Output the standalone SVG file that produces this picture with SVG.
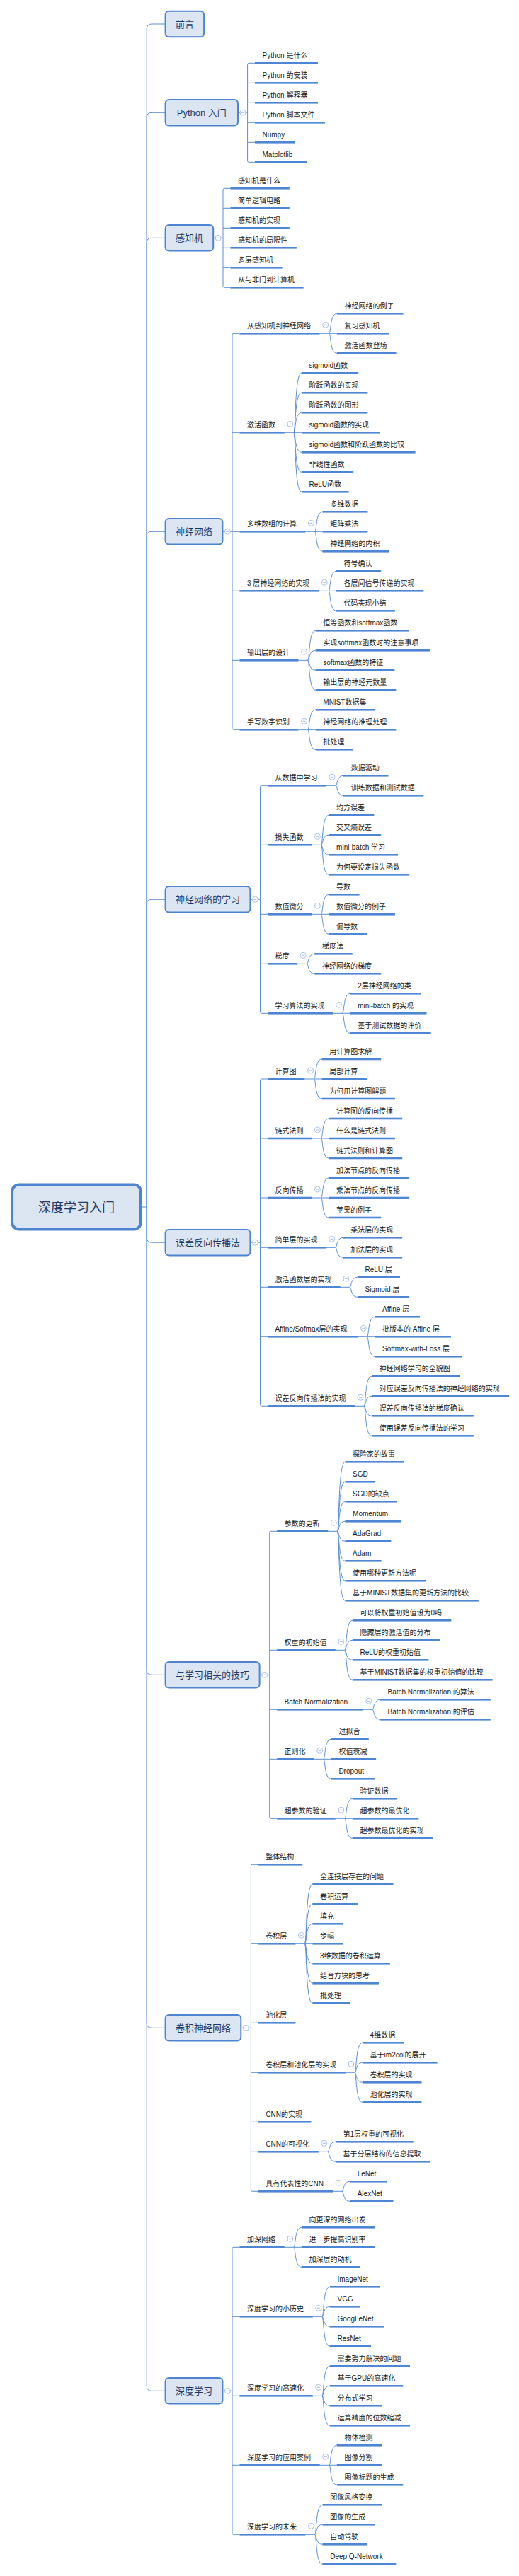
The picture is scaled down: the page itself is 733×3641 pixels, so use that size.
<svg xmlns="http://www.w3.org/2000/svg" xmlns:xlink="http://www.w3.org/1999/xlink" width="733" height="3641" viewBox="0 0 733 3641">
<style>
text{font-family:'Liberation Sans','Noto Sans CJK SC',sans-serif}
.c{fill:none;stroke:#5b8fd8;stroke-width:1}
.b1{fill:#dce6f3;stroke:#4d84d1;stroke-width:2}
.b0{fill:#dce6f3;stroke:#4d84d1;stroke-width:4}
.t0{font-size:18px;fill:#1f3a66;text-anchor:middle}
.t1{font-size:13px;fill:#1f3a66;text-anchor:middle}
.t2{font-size:10px;fill:#1a1a1a}
.u{fill:#4d86d4}
</style>
<defs>
<g id="tg"><circle r="4" fill="#fff" stroke="#a9bfe8" stroke-width="1"/><line x1="-2" y1="0" x2="2" y2="0" stroke="#8aa6df" stroke-width="0.8"/></g>
</defs>
<rect width="733" height="3641" fill="#fff"/>
<g id="connectors">
<path class="c" d="M200 1706H207.2 M207.2 1706V41Q207.2 34 214.2 34H233.6 M207.2 1706V166.3Q207.2 159.3 214.2 159.3H233.6 M207.2 1706V343.3Q207.2 336.3 214.2 336.3H233.6 M207.2 1706V758.3Q207.2 751.3 214.2 751.3H233.6 M207.2 1706V1278.3Q207.2 1271.3 214.2 1271.3H233.6 M207.2 1706V1749.2Q207.2 1756.2 214.2 1756.2H233.6 M207.2 1706V2360.3Q207.2 2367.3 214.2 2367.3H233.6 M207.2 1706V2859.3Q207.2 2866.3 214.2 2866.3H233.6 M207.2 1706V3372.3Q207.2 3379.3 214.2 3379.3H233.6"/>
<path class="c" d="M336 159.3H349.6 M351.6 89.3Q349.6 89.3 349.6 91.3V227.3Q349.6 229.3 351.6 229.3H360 M351.6 89.3H360 M349.6 117.3H360 M349.6 145.3H360 M349.6 173.3H360 M349.6 201.3H360"/>
<path class="c" d="M301.2 336.3H315 M317 266.3Q315 266.3 315 268.3V404.3Q315 406.3 317 406.3H325.4 M317 266.3H325.4 M315 294.3H325.4 M315 322.3H325.4 M315 350.3H325.4 M315 378.3H325.4"/>
<path class="c" d="M314.4 751.3H328 M330 471.3Q328 471.3 328 473.3V1029.3Q328 1031.3 330 1031.3H338.4 M330 471.3H338.4 M328 611.3H338.4 M328 751.3H338.4 M328 835.3H338.4 M328 933.3H338.4"/>
<path class="c" d="M451.7 471.3H475.7 M464.7 471.3C467.7 471.3 465.7 443.3 475.7 443.3 M464.7 471.3C467.7 471.3 465.7 499.3 475.7 499.3"/>
<path class="c" d="M401.8 611.3H425.8 M414.8 611.3C417.8 611.3 415.8 527.3 425.8 527.3 M414.8 611.3C417.8 611.3 415.8 555.3 425.8 555.3 M414.8 611.3C417.8 611.3 415.8 583.3 425.8 583.3 M414.8 611.3C417.8 611.3 415.8 639.3 425.8 639.3 M414.8 611.3C417.8 611.3 415.8 667.3 425.8 667.3 M414.8 611.3C417.8 611.3 415.8 695.3 425.8 695.3"/>
<path class="c" d="M431.5 751.3H455.5 M444.5 751.3C447.5 751.3 445.5 723.3 455.5 723.3 M444.5 751.3C447.5 751.3 445.5 779.3 455.5 779.3"/>
<path class="c" d="M450.3 835.3H475 M464 835.3C467 835.3 465 807.3 475 807.3 M464 835.3C467 835.3 465 863.3 475 863.3"/>
<path class="c" d="M421.6 933.3H434.6 M434.6 933.3C437.6 933.3 435.6 891.3 445.6 891.3 M434.6 933.3C437.6 933.3 435.6 919.3 445.6 919.3 M434.6 933.3C437.6 933.3 435.6 947.3 445.6 947.3 M434.6 933.3C437.6 933.3 435.6 975.3 445.6 975.3"/>
<path class="c" d="M421.6 1031.3H445.6 M434.6 1031.3C437.6 1031.3 435.6 1003.3 445.6 1003.3 M434.6 1031.3C437.6 1031.3 435.6 1059.3 445.6 1059.3"/>
<path class="c" d="M353.4 1271.3H367.5 M369.5 1110.3Q367.5 1110.3 367.5 1112.3V1430.3Q367.5 1432.3 369.5 1432.3H377.9 M369.5 1110.3H377.9 M367.5 1194.3H377.9 M367.5 1292.3H377.9 M367.5 1362.3H377.9"/>
<path class="c" d="M461 1110.3H474 M474 1110.3C477 1110.3 475 1096.3 485 1096.3 M474 1110.3C477 1110.3 475 1124.3 485 1124.3"/>
<path class="c" d="M440.4 1194.3H453.4 M453.4 1194.3C456.4 1194.3 454.4 1152.3 464.4 1152.3 M453.4 1194.3C456.4 1194.3 454.4 1180.3 464.4 1180.3 M453.4 1194.3C456.4 1194.3 454.4 1208.3 464.4 1208.3 M453.4 1194.3C456.4 1194.3 454.4 1236.3 464.4 1236.3"/>
<path class="c" d="M440.4 1292.3H464.4 M453.4 1292.3C456.4 1292.3 454.4 1264.3 464.4 1264.3 M453.4 1292.3C456.4 1292.3 454.4 1320.3 464.4 1320.3"/>
<path class="c" d="M420.2 1362.3H433.2 M433.2 1362.3C436.2 1362.3 434.2 1348.3 444.2 1348.3 M433.2 1362.3C436.2 1362.3 434.2 1376.3 444.2 1376.3"/>
<path class="c" d="M470.5 1432.3H494.5 M483.5 1432.3C486.5 1432.3 484.5 1404.3 494.5 1404.3 M483.5 1432.3C486.5 1432.3 484.5 1460.3 494.5 1460.3"/>
<path class="c" d="M353.4 1756.2H367.5 M369.5 1525Q367.5 1525 367.5 1527V1985.3Q367.5 1987.3 369.5 1987.3H377.9 M369.5 1525H377.9 M367.5 1609H377.9 M367.5 1693H377.9 M367.5 1763.3H377.9 M367.5 1819.3H377.9 M367.5 1889.3H377.9"/>
<path class="c" d="M430.5 1525H454.5 M443.5 1525C446.5 1525 444.5 1497 454.5 1497 M443.5 1525C446.5 1525 444.5 1553 454.5 1553"/>
<path class="c" d="M440.4 1609H464.4 M453.4 1609C456.4 1609 454.4 1581 464.4 1581 M453.4 1609C456.4 1609 454.4 1637 464.4 1637"/>
<path class="c" d="M440.4 1693H464.4 M453.4 1693C456.4 1693 454.4 1665 464.4 1665 M453.4 1693C456.4 1693 454.4 1721 464.4 1721"/>
<path class="c" d="M460.6 1763.3H473.6 M473.6 1763.3C476.6 1763.3 474.6 1749.3 484.6 1749.3 M473.6 1763.3C476.6 1763.3 474.6 1777.3 484.6 1777.3"/>
<path class="c" d="M480.8 1819.3H493.8 M493.8 1819.3C496.8 1819.3 494.8 1805.3 504.8 1805.3 M493.8 1819.3C496.8 1819.3 494.8 1833.3 504.8 1833.3"/>
<path class="c" d="M505.3 1889.3H529.3 M518.3 1889.3C521.3 1889.3 519.3 1861.3 529.3 1861.3 M518.3 1889.3C521.3 1889.3 519.3 1917.3 529.3 1917.3"/>
<path class="c" d="M501 1987.3H514 M514 1987.3C517 1987.3 515 1945.3 525 1945.3 M514 1987.3C517 1987.3 515 1973.3 525 1973.3 M514 1987.3C517 1987.3 515 2001.3 525 2001.3 M514 1987.3C517 1987.3 515 2029.3 525 2029.3"/>
<path class="c" d="M366.6 2367.3H380.7 M382.7 2164.3Q380.7 2164.3 380.7 2166.3V2568.3Q380.7 2570.3 382.7 2570.3H391.1 M382.7 2164.3H391.1 M380.7 2332.3H391.1 M380.7 2416.3H391.1 M380.7 2486.3H391.1"/>
<path class="c" d="M463.4 2164.3H476.4 M476.4 2164.3C479.4 2164.3 477.4 2066.3 487.4 2066.3 M476.4 2164.3C479.4 2164.3 477.4 2094.3 487.4 2094.3 M476.4 2164.3C479.4 2164.3 477.4 2122.3 487.4 2122.3 M476.4 2164.3C479.4 2164.3 477.4 2150.3 487.4 2150.3 M476.4 2164.3C479.4 2164.3 477.4 2178.3 487.4 2178.3 M476.4 2164.3C479.4 2164.3 477.4 2206.3 487.4 2206.3 M476.4 2164.3C479.4 2164.3 477.4 2234.3 487.4 2234.3 M476.4 2164.3C479.4 2164.3 477.4 2262.3 487.4 2262.3"/>
<path class="c" d="M473.8 2332.3H486.8 M486.8 2332.3C489.8 2332.3 487.8 2290.3 497.8 2290.3 M486.8 2332.3C489.8 2332.3 487.8 2318.3 497.8 2318.3 M486.8 2332.3C489.8 2332.3 487.8 2346.3 497.8 2346.3 M486.8 2332.3C489.8 2332.3 487.8 2374.3 497.8 2374.3"/>
<path class="c" d="M512.8 2416.3H525.8 M525.8 2416.3C528.8 2416.3 526.8 2402.3 536.8 2402.3 M525.8 2416.3C528.8 2416.3 526.8 2430.3 536.8 2430.3"/>
<path class="c" d="M443.7 2486.3H467.7 M456.7 2486.3C459.7 2486.3 457.7 2458.3 467.7 2458.3 M456.7 2486.3C459.7 2486.3 457.7 2514.3 467.7 2514.3"/>
<path class="c" d="M473.8 2570.3H497.8 M486.8 2570.3C489.8 2570.3 487.8 2542.3 497.8 2542.3 M486.8 2570.3C489.8 2570.3 487.8 2598.3 497.8 2598.3"/>
<path class="c" d="M340.3 2866.3H354.4 M356.4 2635.3Q354.4 2635.3 354.4 2637.3V3095.3Q354.4 3097.3 356.4 3097.3H364.8 M356.4 2635.3H364.8 M354.4 2747.3H364.8 M354.4 2859.3H364.8 M354.4 2929.3H364.8 M354.4 2999.3H364.8 M354.4 3041.3H364.8"/>
<path class="c" d="M417.4 2747.3H441.4 M430.4 2747.3C433.4 2747.3 431.4 2663.3 441.4 2663.3 M430.4 2747.3C433.4 2747.3 431.4 2691.3 441.4 2691.3 M430.4 2747.3C433.4 2747.3 431.4 2719.3 441.4 2719.3 M430.4 2747.3C433.4 2747.3 431.4 2775.3 441.4 2775.3 M430.4 2747.3C433.4 2747.3 431.4 2803.3 441.4 2803.3 M430.4 2747.3C433.4 2747.3 431.4 2831.3 441.4 2831.3"/>
<path class="c" d="M487.9 2929.3H500.9 M500.9 2929.3C503.9 2929.3 501.9 2887.3 511.9 2887.3 M500.9 2929.3C503.9 2929.3 501.9 2915.3 511.9 2915.3 M500.9 2929.3C503.9 2929.3 501.9 2943.3 511.9 2943.3 M500.9 2929.3C503.9 2929.3 501.9 2971.3 511.9 2971.3"/>
<path class="c" d="M449.8 3041.3H462.8 M462.8 3041.3C465.8 3041.3 463.8 3027.3 473.8 3027.3 M462.8 3041.3C465.8 3041.3 463.8 3055.3 473.8 3055.3"/>
<path class="c" d="M470 3097.3H483 M483 3097.3C486 3097.3 484 3083.3 494 3083.3 M483 3097.3C486 3097.3 484 3111.3 494 3111.3"/>
<path class="c" d="M314.4 3379.3H328 M330 3176.3Q328 3176.3 328 3178.3V3580.3Q328 3582.3 330 3582.3H338.4 M330 3176.3H338.4 M328 3274.3H338.4 M328 3386.3H338.4 M328 3484.3H338.4"/>
<path class="c" d="M401.8 3176.3H425.8 M414.8 3176.3C417.8 3176.3 415.8 3148.3 425.8 3148.3 M414.8 3176.3C417.8 3176.3 415.8 3204.3 425.8 3204.3"/>
<path class="c" d="M441.8 3274.3H454.8 M454.8 3274.3C457.8 3274.3 455.8 3232.3 465.8 3232.3 M454.8 3274.3C457.8 3274.3 455.8 3260.3 465.8 3260.3 M454.8 3274.3C457.8 3274.3 455.8 3288.3 465.8 3288.3 M454.8 3274.3C457.8 3274.3 455.8 3316.3 465.8 3316.3"/>
<path class="c" d="M441.8 3386.3H454.8 M454.8 3386.3C457.8 3386.3 455.8 3344.3 465.8 3344.3 M454.8 3386.3C457.8 3386.3 455.8 3372.3 465.8 3372.3 M454.8 3386.3C457.8 3386.3 455.8 3400.3 465.8 3400.3 M454.8 3386.3C457.8 3386.3 455.8 3428.3 465.8 3428.3"/>
<path class="c" d="M451.7 3484.3H475.7 M464.7 3484.3C467.7 3484.3 465.7 3456.3 475.7 3456.3 M464.7 3484.3C467.7 3484.3 465.7 3512.3 475.7 3512.3"/>
<path class="c" d="M431.5 3582.3H444.5 M444.5 3582.3C447.5 3582.3 445.5 3540.3 455.5 3540.3 M444.5 3582.3C447.5 3582.3 445.5 3568.3 455.5 3568.3 M444.5 3582.3C447.5 3582.3 445.5 3596.3 455.5 3596.3 M444.5 3582.3C447.5 3582.3 445.5 3624.3 455.5 3624.3"/>
</g>
<g id="root"><rect class="b0" x="17" y="1674.5" width="182" height="63" rx="10"/><text class="t0" x="108" y="1712.5">深度学习入门</text></g>
<g id="n1"><rect class="b1" x="233.6" y="15.7" width="54.5" height="36.6" rx="5"/><text class="t1" x="260.9" y="38.6">前言</text></g>
<g id="n2"><rect class="b1" x="233.6" y="141" width="102.4" height="36.6" rx="5"/><text class="t1" x="284.8" y="163.9">Python 入门</text><use href="#tg" x="343" y="159.3"/></g>
<g id="n2-1"><rect class="u" x="360" y="88" width="89" height="2.6"/><text class="t2" x="370.5" y="82.3">Python 是什么</text></g>
<g id="n2-2"><rect class="u" x="360" y="116" width="89" height="2.6"/><text class="t2" x="370.5" y="110.3">Python 的安装</text></g>
<g id="n2-3"><rect class="u" x="360" y="144" width="89" height="2.6"/><text class="t2" x="370.5" y="138.3">Python 解释器</text></g>
<g id="n2-4"><rect class="u" x="360" y="172" width="99" height="2.6"/><text class="t2" x="370.5" y="166.3">Python 脚本文件</text></g>
<g id="n2-5"><rect class="u" x="360" y="200" width="57" height="2.6"/><text class="t2" x="370.5" y="194.3">Numpy</text></g>
<g id="n2-6"><rect class="u" x="360" y="228" width="73" height="2.6"/><text class="t2" x="370.5" y="222.3">Matplotlib</text></g>
<g id="n3"><rect class="b1" x="233.6" y="318" width="67.6" height="36.6" rx="5"/><text class="t1" x="267.4" y="340.9">感知机</text><use href="#tg" x="308.2" y="336.3"/></g>
<g id="n3-1"><rect class="u" x="325.4" y="265" width="83.4" height="2.6"/><text class="t2" x="335.9" y="259.3">感知机是什么</text></g>
<g id="n3-2"><rect class="u" x="325.4" y="293" width="83.4" height="2.6"/><text class="t2" x="335.9" y="287.3">简单逻辑电路</text></g>
<g id="n3-3"><rect class="u" x="325.4" y="321" width="83.4" height="2.6"/><text class="t2" x="335.9" y="315.3">感知机的实现</text></g>
<g id="n3-4"><rect class="u" x="325.4" y="349" width="93.4" height="2.6"/><text class="t2" x="335.9" y="343.3">感知机的局限性</text></g>
<g id="n3-5"><rect class="u" x="325.4" y="377" width="73.2" height="2.6"/><text class="t2" x="335.9" y="371.3">多层感知机</text></g>
<g id="n3-6"><rect class="u" x="325.4" y="405" width="103.2" height="2.6"/><text class="t2" x="335.9" y="399.3">从与非门到计算机</text></g>
<g id="n4"><rect class="b1" x="233.6" y="733" width="80.8" height="36.6" rx="5"/><text class="t1" x="274" y="755.9">神经网络</text><use href="#tg" x="321.4" y="751.3"/></g>
<g id="n4-1"><rect class="u" x="338.4" y="470" width="113.3" height="2.6"/><text class="t2" x="348.9" y="464.3">从感知机到神经网络</text><use href="#tg" x="459.7" y="459.3"/></g>
<g id="n4-1-1"><rect class="u" x="475.7" y="442" width="93.8" height="2.6"/><text class="t2" x="486.4" y="436.3">神经网络的例子</text></g>
<g id="n4-1-2"><rect class="u" x="475.7" y="470" width="73.6" height="2.6"/><text class="t2" x="486.4" y="464.3">复习感知机</text></g>
<g id="n4-1-3"><rect class="u" x="475.7" y="498" width="83.9" height="2.6"/><text class="t2" x="486.4" y="492.3">激活函数登场</text></g>
<g id="n4-2"><rect class="u" x="338.4" y="610" width="63.4" height="2.6"/><text class="t2" x="348.9" y="604.3">激活函数</text><use href="#tg" x="409.8" y="599.3"/></g>
<g id="n4-2-1"><rect class="u" x="425.8" y="526" width="80.4" height="2.6"/><text class="t2" x="436.5" y="520.3">sigmoid函数</text></g>
<g id="n4-2-2"><rect class="u" x="425.8" y="554" width="93.6" height="2.6"/><text class="t2" x="436.5" y="548.3">阶跃函数的实现</text></g>
<g id="n4-2-3"><rect class="u" x="425.8" y="582" width="93.6" height="2.6"/><text class="t2" x="436.5" y="576.3">阶跃函数的图形</text></g>
<g id="n4-2-4"><rect class="u" x="425.8" y="610" width="110.5" height="2.6"/><text class="t2" x="436.5" y="604.3">sigmoid函数的实现</text></g>
<g id="n4-2-5"><rect class="u" x="425.8" y="638" width="160.8" height="2.6"/><text class="t2" x="436.5" y="632.3">sigmoid函数和阶跃函数的比较</text></g>
<g id="n4-2-6"><rect class="u" x="425.8" y="666" width="73.4" height="2.6"/><text class="t2" x="436.5" y="660.3">非线性函数</text></g>
<g id="n4-2-7"><rect class="u" x="425.8" y="694" width="66.8" height="2.6"/><text class="t2" x="436.5" y="688.3">ReLU函数</text></g>
<g id="n4-3"><rect class="u" x="338.4" y="750" width="93.1" height="2.6"/><text class="t2" x="348.9" y="744.3">多维数组的计算</text><use href="#tg" x="439.5" y="739.3"/></g>
<g id="n4-3-1"><rect class="u" x="455.5" y="722" width="63.9" height="2.6"/><text class="t2" x="466.2" y="716.3">多维数据</text></g>
<g id="n4-3-2"><rect class="u" x="455.5" y="750" width="63.9" height="2.6"/><text class="t2" x="466.2" y="744.3">矩阵乘法</text></g>
<g id="n4-3-3"><rect class="u" x="455.5" y="778" width="93.9" height="2.6"/><text class="t2" x="466.2" y="772.3">神经网络的内积</text></g>
<g id="n4-4"><rect class="u" x="338.4" y="834" width="111.9" height="2.6"/><text class="t2" x="348.9" y="828.3">3 层神经网络的实现</text><use href="#tg" x="458.3" y="823.3"/></g>
<g id="n4-4-1"><rect class="u" x="475" y="806" width="63.2" height="2.6"/><text class="t2" x="485.6" y="800.3">符号确认</text></g>
<g id="n4-4-2"><rect class="u" x="475" y="834" width="123.3" height="2.6"/><text class="t2" x="485.6" y="828.3">各层间信号传递的实现</text></g>
<g id="n4-4-3"><rect class="u" x="475" y="862" width="82.9" height="2.6"/><text class="t2" x="485.6" y="856.3">代码实现小结</text></g>
<g id="n4-5"><rect class="u" x="338.4" y="932" width="83.2" height="2.6"/><text class="t2" x="348.9" y="926.3">输出层的设计</text><use href="#tg" x="429.6" y="921.3"/></g>
<g id="n4-5-1"><rect class="u" x="445.6" y="890" width="131.6" height="2.6"/><text class="t2" x="456.3" y="884.3">恒等函数和softmax函数</text></g>
<g id="n4-5-2"><rect class="u" x="445.6" y="918" width="162.1" height="2.6"/><text class="t2" x="456.3" y="912.3">实现softmax函数时的注意事项</text></g>
<g id="n4-5-3"><rect class="u" x="445.6" y="946" width="111.8" height="2.6"/><text class="t2" x="456.3" y="940.3">softmax函数的特征</text></g>
<g id="n4-5-4"><rect class="u" x="445.6" y="974" width="113.7" height="2.6"/><text class="t2" x="456.3" y="968.3">输出层的神经元数量</text></g>
<g id="n4-6"><rect class="u" x="338.4" y="1030" width="83.2" height="2.6"/><text class="t2" x="348.9" y="1024.3">手写数字识别</text><use href="#tg" x="429.6" y="1019.3"/></g>
<g id="n4-6-1"><rect class="u" x="445.6" y="1002" width="84.6" height="2.6"/><text class="t2" x="456.3" y="996.3">MNIST数据集</text></g>
<g id="n4-6-2"><rect class="u" x="445.6" y="1030" width="113.7" height="2.6"/><text class="t2" x="456.3" y="1024.3">神经网络的推理处理</text></g>
<g id="n4-6-3"><rect class="u" x="445.6" y="1058" width="53.5" height="2.6"/><text class="t2" x="456.3" y="1052.3">批处理</text></g>
<g id="n5"><rect class="b1" x="233.6" y="1253" width="119.8" height="36.6" rx="5"/><text class="t1" x="293.5" y="1275.9">神经网络的学习</text><use href="#tg" x="360.4" y="1271.3"/></g>
<g id="n5-1"><rect class="u" x="377.9" y="1109" width="83.1" height="2.6"/><text class="t2" x="388.4" y="1103.3">从数据中学习</text><use href="#tg" x="469" y="1098.3"/></g>
<g id="n5-1-1"><rect class="u" x="485" y="1095" width="63.5" height="2.6"/><text class="t2" x="495.7" y="1089.3">数据驱动</text></g>
<g id="n5-1-2"><rect class="u" x="485" y="1123" width="113.3" height="2.6"/><text class="t2" x="495.7" y="1117.3">训练数据和测试数据</text></g>
<g id="n5-2"><rect class="u" x="377.9" y="1193" width="62.5" height="2.6"/><text class="t2" x="388.4" y="1187.3">损失函数</text><use href="#tg" x="448.4" y="1182.3"/></g>
<g id="n5-2-1"><rect class="u" x="464.4" y="1151" width="63.9" height="2.6"/><text class="t2" x="475.1" y="1145.3">均方误差</text></g>
<g id="n5-2-2"><rect class="u" x="464.4" y="1179" width="73.8" height="2.6"/><text class="t2" x="475.1" y="1173.3">交叉熵误差</text></g>
<g id="n5-2-3"><rect class="u" x="464.4" y="1207" width="97.7" height="2.6"/><text class="t2" x="475.1" y="1201.3">mini-batch 学习</text></g>
<g id="n5-2-4"><rect class="u" x="464.4" y="1235" width="113.7" height="2.6"/><text class="t2" x="475.1" y="1229.3">为何要设定损失函数</text></g>
<g id="n5-3"><rect class="u" x="377.9" y="1291" width="62.5" height="2.6"/><text class="t2" x="388.4" y="1285.3">数值微分</text><use href="#tg" x="448.4" y="1280.3"/></g>
<g id="n5-3-1"><rect class="u" x="464.4" y="1263" width="43.2" height="2.6"/><text class="t2" x="475.1" y="1257.3">导数</text></g>
<g id="n5-3-2"><rect class="u" x="464.4" y="1291" width="93.5" height="2.6"/><text class="t2" x="475.1" y="1285.3">数值微分的例子</text></g>
<g id="n5-3-3"><rect class="u" x="464.4" y="1319" width="53.6" height="2.6"/><text class="t2" x="475.1" y="1313.3">偏导数</text></g>
<g id="n5-4"><rect class="u" x="377.9" y="1361" width="42.3" height="2.6"/><text class="t2" x="388.4" y="1355.3">梯度</text><use href="#tg" x="428.2" y="1350.3"/></g>
<g id="n5-4-1"><rect class="u" x="444.2" y="1347" width="53.5" height="2.6"/><text class="t2" x="454.9" y="1341.3">梯度法</text></g>
<g id="n5-4-2"><rect class="u" x="444.2" y="1375" width="94" height="2.6"/><text class="t2" x="454.9" y="1369.3">神经网络的梯度</text></g>
<g id="n5-5"><rect class="u" x="377.9" y="1431" width="92.6" height="2.6"/><text class="t2" x="388.4" y="1425.3">学习算法的实现</text><use href="#tg" x="478.5" y="1420.3"/></g>
<g id="n5-5-1"><rect class="u" x="494.5" y="1403" width="100.1" height="2.6"/><text class="t2" x="505.2" y="1397.3">2层神经网络的类</text></g>
<g id="n5-5-2"><rect class="u" x="494.5" y="1431" width="108" height="2.6"/><text class="t2" x="505.2" y="1425.3">mini-batch 的实现</text></g>
<g id="n5-5-3"><rect class="u" x="494.5" y="1459" width="114.2" height="2.6"/><text class="t2" x="505.2" y="1453.3">基于测试数据的评价</text></g>
<g id="n6"><rect class="b1" x="233.6" y="1737.9" width="119.8" height="36.6" rx="5"/><text class="t1" x="293.5" y="1760.8">误差反向传播法</text><use href="#tg" x="360.4" y="1756.2"/></g>
<g id="n6-1"><rect class="u" x="377.9" y="1523.7" width="52.6" height="2.6"/><text class="t2" x="388.4" y="1518">计算图</text><use href="#tg" x="438.5" y="1513"/></g>
<g id="n6-1-1"><rect class="u" x="454.5" y="1495.7" width="83.7" height="2.6"/><text class="t2" x="465.2" y="1490">用计算图求解</text></g>
<g id="n6-1-2"><rect class="u" x="454.5" y="1523.7" width="63.9" height="2.6"/><text class="t2" x="465.2" y="1518">局部计算</text></g>
<g id="n6-1-3"><rect class="u" x="454.5" y="1551.7" width="103.4" height="2.6"/><text class="t2" x="465.2" y="1546">为何用计算图解题</text></g>
<g id="n6-2"><rect class="u" x="377.9" y="1607.7" width="62.5" height="2.6"/><text class="t2" x="388.4" y="1602">链式法则</text><use href="#tg" x="448.4" y="1597"/></g>
<g id="n6-2-1"><rect class="u" x="464.4" y="1579.7" width="103.8" height="2.6"/><text class="t2" x="475.1" y="1574">计算图的反向传播</text></g>
<g id="n6-2-2"><rect class="u" x="464.4" y="1607.7" width="93.5" height="2.6"/><text class="t2" x="475.1" y="1602">什么是链式法则</text></g>
<g id="n6-2-3"><rect class="u" x="464.4" y="1635.7" width="103.8" height="2.6"/><text class="t2" x="475.1" y="1630">链式法则和计算图</text></g>
<g id="n6-3"><rect class="u" x="377.9" y="1691.7" width="62.5" height="2.6"/><text class="t2" x="388.4" y="1686">反向传播</text><use href="#tg" x="448.4" y="1681"/></g>
<g id="n6-3-1"><rect class="u" x="464.4" y="1663.7" width="113.7" height="2.6"/><text class="t2" x="475.1" y="1658">加法节点的反向传播</text></g>
<g id="n6-3-2"><rect class="u" x="464.4" y="1691.7" width="113.7" height="2.6"/><text class="t2" x="475.1" y="1686">乘法节点的反向传播</text></g>
<g id="n6-3-3"><rect class="u" x="464.4" y="1719.7" width="73.8" height="2.6"/><text class="t2" x="475.1" y="1714">苹果的例子</text></g>
<g id="n6-4"><rect class="u" x="377.9" y="1762" width="82.7" height="2.6"/><text class="t2" x="388.4" y="1756.3">简单层的实现</text><use href="#tg" x="468.6" y="1751.3"/></g>
<g id="n6-4-1"><rect class="u" x="484.6" y="1748" width="83.6" height="2.6"/><text class="t2" x="495.3" y="1742.3">乘法层的实现</text></g>
<g id="n6-4-2"><rect class="u" x="484.6" y="1776" width="83.6" height="2.6"/><text class="t2" x="495.3" y="1770.3">加法层的实现</text></g>
<g id="n6-5"><rect class="u" x="377.9" y="1818" width="102.9" height="2.6"/><text class="t2" x="388.4" y="1812.3">激活函数层的实现</text><use href="#tg" x="488.8" y="1807.3"/></g>
<g id="n6-5-1"><rect class="u" x="504.8" y="1804" width="60.2" height="2.6"/><text class="t2" x="515.5" y="1798.3">ReLU 层</text></g>
<g id="n6-5-2"><rect class="u" x="504.8" y="1832" width="73.3" height="2.6"/><text class="t2" x="515.5" y="1826.3">Sigmoid 层</text></g>
<g id="n6-6"><rect class="u" x="377.9" y="1888" width="127.4" height="2.6"/><text class="t2" x="388.4" y="1882.3">Affine/Sofmax层的实现</text><use href="#tg" x="513.3" y="1877.3"/></g>
<g id="n6-6-1"><rect class="u" x="529.3" y="1860" width="63.8" height="2.6"/><text class="t2" x="540" y="1854.3">Affine 层</text></g>
<g id="n6-6-2"><rect class="u" x="529.3" y="1888" width="107.6" height="2.6"/><text class="t2" x="540" y="1882.3">批版本的 Affine 层</text></g>
<g id="n6-6-3"><rect class="u" x="529.3" y="1916" width="123.1" height="2.6"/><text class="t2" x="540" y="1910.3">Softmax-with-Loss 层</text></g>
<g id="n6-7"><rect class="u" x="377.9" y="1986" width="123.1" height="2.6"/><text class="t2" x="388.4" y="1980.3">误差反向传播法的实现</text><use href="#tg" x="509" y="1975.3"/></g>
<g id="n6-7-1"><rect class="u" x="525" y="1944" width="124.1" height="2.6"/><text class="t2" x="535.7" y="1938.3">神经网络学习的全貌图</text></g>
<g id="n6-7-2"><rect class="u" x="525" y="1972" width="194.1" height="2.6"/><text class="t2" x="535.7" y="1966.3">对应误差反向传播法的神经网络的实现</text></g>
<g id="n6-7-3"><rect class="u" x="525" y="2000" width="143.8" height="2.6"/><text class="t2" x="535.7" y="1994.3">误差反向传播法的梯度确认</text></g>
<g id="n6-7-4"><rect class="u" x="525" y="2028" width="143.8" height="2.6"/><text class="t2" x="535.7" y="2022.3">使用误差反向传播法的学习</text></g>
<g id="n7"><rect class="b1" x="233.6" y="2349" width="133" height="36.6" rx="5"/><text class="t1" x="300.1" y="2371.9">与学习相关的技巧</text><use href="#tg" x="373.6" y="2367.3"/></g>
<g id="n7-1"><rect class="u" x="391.1" y="2163" width="72.3" height="2.6"/><text class="t2" x="401.6" y="2157.3">参数的更新</text><use href="#tg" x="471.4" y="2152.3"/></g>
<g id="n7-1-1"><rect class="u" x="487.4" y="2065" width="83.6" height="2.6"/><text class="t2" x="498.1" y="2059.3">探险家的故事</text></g>
<g id="n7-1-2"><rect class="u" x="487.4" y="2093" width="42.8" height="2.6"/><text class="t2" x="498.1" y="2087.3">SGD</text></g>
<g id="n7-1-3"><rect class="u" x="487.4" y="2121" width="73.3" height="2.6"/><text class="t2" x="498.1" y="2115.3">SGD的缺点</text></g>
<g id="n7-1-4"><rect class="u" x="487.4" y="2149" width="79" height="2.6"/><text class="t2" x="498.1" y="2143.3">Momentum</text></g>
<g id="n7-1-5"><rect class="u" x="487.4" y="2177" width="64.9" height="2.6"/><text class="t2" x="498.1" y="2171.3">AdaGrad</text></g>
<g id="n7-1-6"><rect class="u" x="487.4" y="2205" width="51.2" height="2.6"/><text class="t2" x="498.1" y="2199.3">Adam</text></g>
<g id="n7-1-7"><rect class="u" x="487.4" y="2233" width="114.2" height="2.6"/><text class="t2" x="498.1" y="2227.3">使用哪种更新方法呢</text></g>
<g id="n7-1-8"><rect class="u" x="487.4" y="2261" width="188.5" height="2.6"/><text class="t2" x="498.1" y="2255.3">基于MINIST数据集的更新方法的比较</text></g>
<g id="n7-2"><rect class="u" x="391.1" y="2331" width="82.7" height="2.6"/><text class="t2" x="401.6" y="2325.3">权重的初始值</text><use href="#tg" x="481.8" y="2320.3"/></g>
<g id="n7-2-1"><rect class="u" x="497.8" y="2289" width="139.5" height="2.6"/><text class="t2" x="508.5" y="2283.3">可以将权重初始值设为0吗</text></g>
<g id="n7-2-2"><rect class="u" x="497.8" y="2317" width="123.5" height="2.6"/><text class="t2" x="508.5" y="2311.3">隐藏层的激活值的分布</text></g>
<g id="n7-2-3"><rect class="u" x="497.8" y="2345" width="107.6" height="2.6"/><text class="t2" x="508.5" y="2339.3">ReLU的权重初始值</text></g>
<g id="n7-2-4"><rect class="u" x="497.8" y="2373" width="197.8" height="2.6"/><text class="t2" x="508.5" y="2367.3">基于MINIST数据集的权重初始值的比较</text></g>
<g id="n7-3"><rect class="u" x="391.1" y="2415" width="121.7" height="2.6"/><text class="t2" x="401.6" y="2409.3">Batch Normalization</text><use href="#tg" x="520.8" y="2404.3"/></g>
<g id="n7-3-1"><rect class="u" x="536.8" y="2401" width="156" height="2.6"/><text class="t2" x="547.5" y="2395.3">Batch Normalization 的算法</text></g>
<g id="n7-3-2"><rect class="u" x="536.8" y="2429" width="156" height="2.6"/><text class="t2" x="547.5" y="2423.3">Batch Normalization 的评估</text></g>
<g id="n7-4"><rect class="u" x="391.1" y="2485" width="52.6" height="2.6"/><text class="t2" x="401.6" y="2479.3">正则化</text><use href="#tg" x="451.7" y="2474.3"/></g>
<g id="n7-4-1"><rect class="u" x="467.7" y="2457" width="53.1" height="2.6"/><text class="t2" x="478.4" y="2451.3">过拟合</text></g>
<g id="n7-4-2"><rect class="u" x="467.7" y="2485" width="63.4" height="2.6"/><text class="t2" x="478.4" y="2479.3">权值衰减</text></g>
<g id="n7-4-3"><rect class="u" x="467.7" y="2513" width="62" height="2.6"/><text class="t2" x="478.4" y="2507.3">Dropout</text></g>
<g id="n7-5"><rect class="u" x="391.1" y="2569" width="82.7" height="2.6"/><text class="t2" x="401.6" y="2563.3">超参数的验证</text><use href="#tg" x="481.8" y="2558.3"/></g>
<g id="n7-5-1"><rect class="u" x="497.8" y="2541" width="63.4" height="2.6"/><text class="t2" x="508.5" y="2535.3">验证数据</text></g>
<g id="n7-5-2"><rect class="u" x="497.8" y="2569" width="93.5" height="2.6"/><text class="t2" x="508.5" y="2563.3">超参数的最优化</text></g>
<g id="n7-5-3"><rect class="u" x="497.8" y="2597" width="113.7" height="2.6"/><text class="t2" x="508.5" y="2591.3">超参数最优化的实现</text></g>
<g id="n8"><rect class="b1" x="233.6" y="2848" width="106.7" height="36.6" rx="5"/><text class="t1" x="287" y="2870.9">卷积神经网络</text><use href="#tg" x="347.3" y="2866.3"/></g>
<g id="n8-1"><rect class="u" x="364.8" y="2634" width="62.4" height="2.6"/><text class="t2" x="375.3" y="2628.3">整体结构</text></g>
<g id="n8-2"><rect class="u" x="364.8" y="2746" width="52.6" height="2.6"/><text class="t2" x="375.3" y="2740.3">卷积层</text><use href="#tg" x="425.4" y="2735.3"/></g>
<g id="n8-2-1"><rect class="u" x="441.4" y="2662" width="114.1" height="2.6"/><text class="t2" x="452.1" y="2656.3">全连接层存在的问题</text></g>
<g id="n8-2-2"><rect class="u" x="441.4" y="2690" width="63.9" height="2.6"/><text class="t2" x="452.1" y="2684.3">卷积运算</text></g>
<g id="n8-2-3"><rect class="u" x="441.4" y="2718" width="43.2" height="2.6"/><text class="t2" x="452.1" y="2712.3">填充</text></g>
<g id="n8-2-4"><rect class="u" x="441.4" y="2746" width="43.2" height="2.6"/><text class="t2" x="452.1" y="2740.3">步幅</text></g>
<g id="n8-2-5"><rect class="u" x="441.4" y="2774" width="109.4" height="2.6"/><text class="t2" x="452.1" y="2768.3">3维数据的卷积运算</text></g>
<g id="n8-2-6"><rect class="u" x="441.4" y="2802" width="93.5" height="2.6"/><text class="t2" x="452.1" y="2796.3">结合方块的思考</text></g>
<g id="n8-2-7"><rect class="u" x="441.4" y="2830" width="53.5" height="2.6"/><text class="t2" x="452.1" y="2824.3">批处理</text></g>
<g id="n8-3"><rect class="u" x="364.8" y="2858" width="52.6" height="2.6"/><text class="t2" x="375.3" y="2852.3">池化层</text></g>
<g id="n8-4"><rect class="u" x="364.8" y="2928" width="123.1" height="2.6"/><text class="t2" x="375.3" y="2922.3">卷积层和池化层的实现</text><use href="#tg" x="495.9" y="2917.3"/></g>
<g id="n8-4-1"><rect class="u" x="511.9" y="2886" width="59.1" height="2.6"/><text class="t2" x="522.6" y="2880.3">4维数据</text></g>
<g id="n8-4-2"><rect class="u" x="511.9" y="2914" width="105.7" height="2.6"/><text class="t2" x="522.6" y="2908.3">基于im2col的展开</text></g>
<g id="n8-4-3"><rect class="u" x="511.9" y="2942" width="83.6" height="2.6"/><text class="t2" x="522.6" y="2936.3">卷积层的实现</text></g>
<g id="n8-4-4"><rect class="u" x="511.9" y="2970" width="83.6" height="2.6"/><text class="t2" x="522.6" y="2964.3">池化层的实现</text></g>
<g id="n8-5"><rect class="u" x="364.8" y="2998" width="74.7" height="2.6"/><text class="t2" x="375.3" y="2992.3">CNN的实现</text></g>
<g id="n8-6"><rect class="u" x="364.8" y="3040" width="85" height="2.6"/><text class="t2" x="375.3" y="3034.3">CNN的可视化</text><use href="#tg" x="457.8" y="3029.3"/></g>
<g id="n8-6-1"><rect class="u" x="473.8" y="3026" width="109.9" height="2.6"/><text class="t2" x="484.5" y="3020.3">第1层权重的可视化</text></g>
<g id="n8-6-2"><rect class="u" x="473.8" y="3054" width="133.9" height="2.6"/><text class="t2" x="484.5" y="3048.3">基于分层结构的信息提取</text></g>
<g id="n8-7"><rect class="u" x="364.8" y="3096" width="105.2" height="2.6"/><text class="t2" x="375.3" y="3090.3">具有代表性的CNN</text><use href="#tg" x="478" y="3085.3"/></g>
<g id="n8-7-1"><rect class="u" x="494" y="3082" width="52.1" height="2.6"/><text class="t2" x="504.7" y="3076.3">LeNet</text></g>
<g id="n8-7-2"><rect class="u" x="494" y="3110" width="61.5" height="2.6"/><text class="t2" x="504.7" y="3104.3">AlexNet</text></g>
<g id="n9"><rect class="b1" x="233.6" y="3361" width="80.8" height="36.6" rx="5"/><text class="t1" x="274" y="3383.9">深度学习</text><use href="#tg" x="321.4" y="3379.3"/></g>
<g id="n9-1"><rect class="u" x="338.4" y="3175" width="63.4" height="2.6"/><text class="t2" x="348.9" y="3169.3">加深网络</text><use href="#tg" x="409.8" y="3164.3"/></g>
<g id="n9-1-1"><rect class="u" x="425.8" y="3147" width="103.4" height="2.6"/><text class="t2" x="436.5" y="3141.3">向更深的网络出发</text></g>
<g id="n9-1-2"><rect class="u" x="425.8" y="3175" width="103.4" height="2.6"/><text class="t2" x="436.5" y="3169.3">进一步提高识别率</text></g>
<g id="n9-1-3"><rect class="u" x="425.8" y="3203" width="83.2" height="2.6"/><text class="t2" x="436.5" y="3197.3">加深层的动机</text></g>
<g id="n9-2"><rect class="u" x="338.4" y="3273" width="103.4" height="2.6"/><text class="t2" x="348.9" y="3267.3">深度学习的小历史</text><use href="#tg" x="449.8" y="3262.3"/></g>
<g id="n9-2-1"><rect class="u" x="465.8" y="3231" width="70.5" height="2.6"/><text class="t2" x="476.5" y="3225.3">ImageNet</text></g>
<g id="n9-2-2"><rect class="u" x="465.8" y="3259" width="43.2" height="2.6"/><text class="t2" x="476.5" y="3253.3">VGG</text></g>
<g id="n9-2-3"><rect class="u" x="465.8" y="3287" width="76.6" height="2.6"/><text class="t2" x="476.5" y="3281.3">GoogLeNet</text></g>
<g id="n9-2-4"><rect class="u" x="465.8" y="3315" width="58.2" height="2.6"/><text class="t2" x="476.5" y="3309.3">ResNet</text></g>
<g id="n9-3"><rect class="u" x="338.4" y="3385" width="103.4" height="2.6"/><text class="t2" x="348.9" y="3379.3">深度学习的高速化</text><use href="#tg" x="449.8" y="3374.3"/></g>
<g id="n9-3-1"><rect class="u" x="465.8" y="3343" width="113.2" height="2.6"/><text class="t2" x="476.5" y="3337.3">需要努力解决的问题</text></g>
<g id="n9-3-2"><rect class="u" x="465.8" y="3371" width="103.4" height="2.6"/><text class="t2" x="476.5" y="3365.3">基于GPU的高速化</text></g>
<g id="n9-3-3"><rect class="u" x="465.8" y="3399" width="73.3" height="2.6"/><text class="t2" x="476.5" y="3393.3">分布式学习</text></g>
<g id="n9-3-4"><rect class="u" x="465.8" y="3427" width="113.2" height="2.6"/><text class="t2" x="476.5" y="3421.3">运算精度的位数缩减</text></g>
<g id="n9-4"><rect class="u" x="338.4" y="3483" width="113.3" height="2.6"/><text class="t2" x="348.9" y="3477.3">深度学习的应用案例</text><use href="#tg" x="459.7" y="3472.3"/></g>
<g id="n9-4-1"><rect class="u" x="475.7" y="3455" width="63.4" height="2.6"/><text class="t2" x="486.4" y="3449.3">物体检测</text></g>
<g id="n9-4-2"><rect class="u" x="475.7" y="3483" width="63.4" height="2.6"/><text class="t2" x="486.4" y="3477.3">图像分割</text></g>
<g id="n9-4-3"><rect class="u" x="475.7" y="3511" width="93.5" height="2.6"/><text class="t2" x="486.4" y="3505.3">图像标题的生成</text></g>
<g id="n9-5"><rect class="u" x="338.4" y="3581" width="93.1" height="2.6"/><text class="t2" x="348.9" y="3575.3">深度学习的未来</text><use href="#tg" x="439.5" y="3570.3"/></g>
<g id="n9-5-1"><rect class="u" x="455.5" y="3539" width="83.6" height="2.6"/><text class="t2" x="466.2" y="3533.3">图像风格变换</text></g>
<g id="n9-5-2"><rect class="u" x="455.5" y="3567" width="73.7" height="2.6"/><text class="t2" x="466.2" y="3561.3">图像的生成</text></g>
<g id="n9-5-3"><rect class="u" x="455.5" y="3595" width="63.4" height="2.6"/><text class="t2" x="466.2" y="3589.3">自动驾驶</text></g>
<g id="n9-5-4"><rect class="u" x="455.5" y="3623" width="103.8" height="2.6"/><text class="t2" x="466.2" y="3617.3">Deep Q-Network</text></g>
</svg>
